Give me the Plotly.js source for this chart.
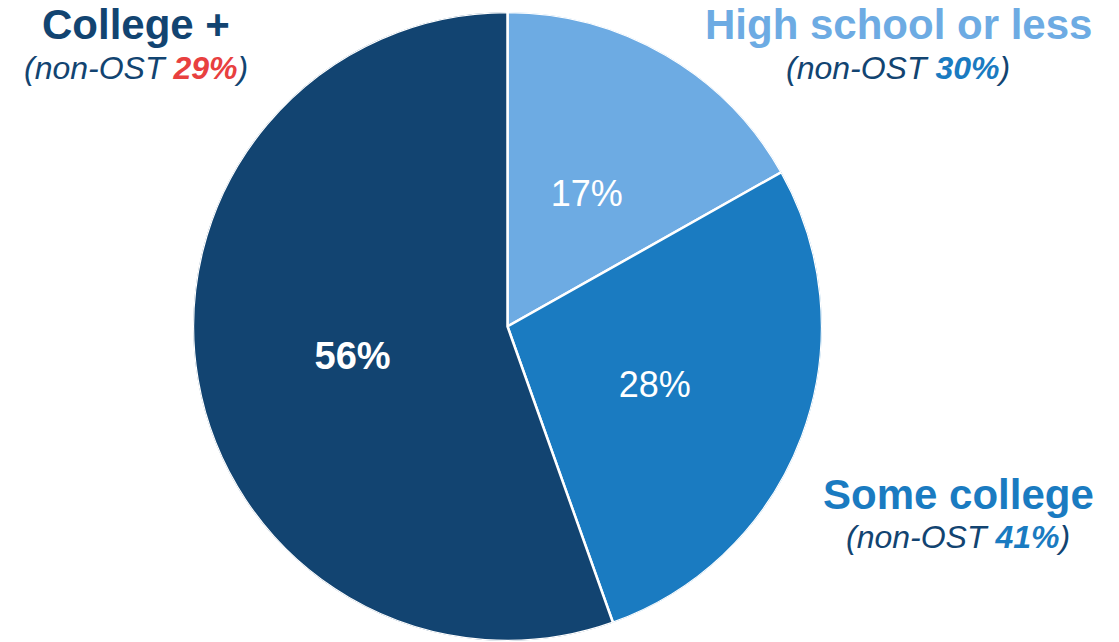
<!DOCTYPE html>
<html>
<head>
<meta charset="utf-8">
<script src="https://cdn.plot.ly/plotly-3.0.1.min.js"></script>
<style>html,body{margin:0;padding:0;background:#fff;}#chart{width:1119px;height:642px;}</style>
</head>
<body>
<div id="chart"></div>
<script>
// Data
var categories = ['High school or less', 'Some college', 'College +'];
var shares = [17, 28, 56];
var nonOstShares = [30, 41, 29];
var sliceColors = ['#6DABE3', '#1A7BC1', '#124471'];
var highlightColors = ['#1A7BC1', '#1A7BC1', '#E8403F'];
var titleColors = ['#6DABE3', '#1A7BC1', '#124471'];
var labelWeights = ['normal', 'normal', 'bold'];

var labelFont = 'Liberation Sans, Arial, sans-serif';
var W = 1119, H = 642;
// pie box in pixels: left, right, top, bottom
var pieBox = [192, 823, 12, 641];
var pieDomain = { x: [pieBox[0] / W, pieBox[1] / W], y: [1 - pieBox[3] / H, 1 - pieBox[2] / H] };
// text layer: a slightly smaller box whose centre sits 6px lower (optical centring of digits)
var textBox = [199, 816, 24, 641];
var textDomain = { x: [textBox[0] / W, textBox[1] / W], y: [1 - textBox[3] / H, 1 - textBox[2] / H] };
var textRangeMax = (textBox[3] - textBox[2]) / (pieBox[3] - pieBox[2]);

// slice geometry derived from the shares (clockwise from 12 o'clock)
var total = shares.reduce(function (a, b) { return a + b; }, 0);
var cum = 0;
var midTheta = shares.map(function (v) {
  var m = (cum + v / 2) / total * 360;
  cum += v;
  return m;
});
var sliceWidth = shares.map(function (v) { return v / total * 360; });

var slices = {
  type: 'barpolar',
  r: shares.map(function () { return 1; }),
  theta: midTheta,
  width: sliceWidth,
  text: categories,
  marker: { color: sliceColors, line: { color: '#ffffff', width: 2.5 } },
  hoverinfo: 'text',
  showlegend: false,
  subplot: 'polar'
};

var sliceText = {
  type: 'scatterpolar',
  mode: 'text',
  r: shares.map(function () { return 0.5; }),
  theta: midTheta,
  text: shares.map(function (v, i) {
    return labelWeights[i] === 'bold' ? '<b>' + v + '%</b>' : v + '%';
  }),
  textposition: 'middle center',
  textfont: { family: labelFont, size: [36, 36, 38], color: '#ffffff' },
  hoverinfo: 'skip',
  showlegend: false,
  subplot: 'polar2'
};

// label annotation positions (paper coords)
var annoPos = [
  { x: 898 / W, y1: 1 - 25 / H, y2: 1 - 68 / H },
  { x: 958 / W, y1: 1 - 494 / H, y2: 1 - 537 / H },
  { x: 136 / W, y1: 1 - 25 / H, y2: 1 - 68 / H }
];
var annotations = [];
categories.forEach(function (c, i) {
  annotations.push({
    xref: 'paper', yref: 'paper', x: annoPos[i].x, y: annoPos[i].y1,
    xanchor: 'center', yanchor: 'middle', showarrow: false,
    text: '<b>' + c + '</b>',
    font: { family: labelFont, size: 42, color: titleColors[i] }
  });
  annotations.push({
    xref: 'paper', yref: 'paper', x: annoPos[i].x, y: annoPos[i].y2,
    xanchor: 'center', yanchor: 'middle', showarrow: false,
    text: '<i>(non-OST <b><span style="color:' + highlightColors[i] + '">' + nonOstShares[i] + '%</span></b>)</i>',
    font: { family: labelFont, size: 32, color: '#124471' }
  });
});

var polarAxes = function (dom, rmax) {
  return {
    domain: dom,
    bgcolor: 'rgba(0,0,0,0)',
    bargap: 0,
    radialaxis: { visible: false, range: [0, rmax] },
    angularaxis: { visible: false, rotation: 90, direction: 'clockwise' }
  };
};

var layout = {
  width: W, height: H,
  margin: { l: 0, r: 0, t: 0, b: 0 },
  paper_bgcolor: '#ffffff',
  polar: polarAxes(pieDomain, 1),
  polar2: polarAxes(textDomain, textRangeMax),
  annotations: annotations
};

Plotly.newPlot('chart', [slices, sliceText], layout, { displayModeBar: false, staticPlot: true });
</script>
</body>
</html>
